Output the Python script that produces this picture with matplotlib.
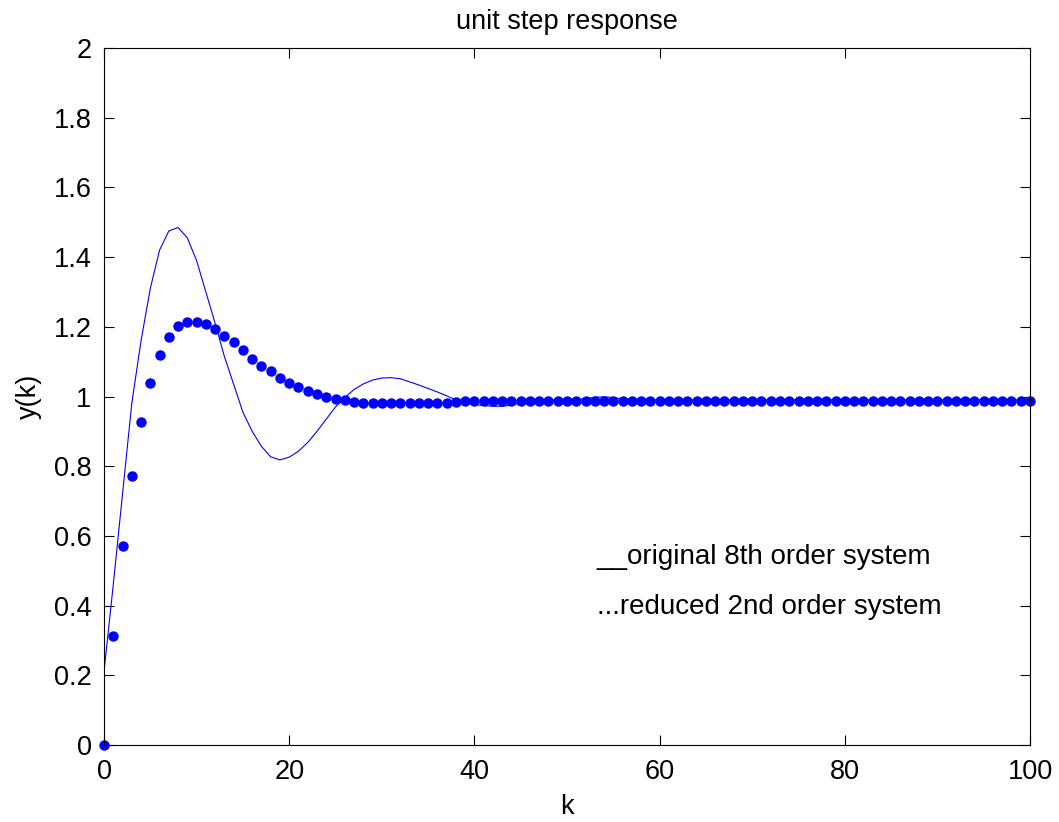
import numpy as np
import matplotlib
matplotlib.use('Agg')
import matplotlib.pyplot as plt

plt.rcParams['font.family'] = ['Liberation Sans', 'DejaVu Sans']

k = np.arange(0, 101)

# original 8th order system (solid line)
y_orig = [0.21, 0.46, 0.72, 0.98, 1.16, 1.31, 1.42, 1.475, 1.485, 1.455,
          1.39, 1.30, 1.21, 1.115, 1.035, 0.955, 0.90, 0.857, 0.827, 0.818,
          0.826, 0.843, 0.868, 0.90, 0.935, 0.97, 0.997, 1.02, 1.036, 1.047,
          1.053, 1.054, 1.051, 1.042, 1.033, 1.023, 1.013, 1.002, 0.99, 0.983,
          0.977, 0.974, 0.972, 0.972, 0.975, 0.981, 0.986, 0.988, 0.99, 0.99,
          0.99, 0.99, 0.994, 0.998, 0.999, 0.997, 0.993, 0.99, 0.99, 0.99,
          0.99, 0.99, 0.99, 0.99, 0.99, 0.99, 0.99, 0.99, 0.99, 0.99,
          0.99, 0.99, 0.99, 0.99, 0.99, 0.99, 0.99, 0.99, 0.99, 0.99,
          0.99, 0.99, 0.99, 0.99, 0.99, 0.99, 0.99, 0.99, 0.99, 0.99,
          0.99, 0.99, 0.99, 0.99, 0.99, 0.99, 0.99, 0.99, 0.99, 0.99,
          0.99]

# reduced 2nd order system (dots)
y_red = [0.0, 0.313, 0.570, 0.772, 0.928, 1.038, 1.118, 1.170, 1.202, 1.215,
         1.215, 1.209, 1.195, 1.175, 1.155, 1.133, 1.108, 1.087, 1.072, 1.052,
         1.038, 1.026, 1.016, 1.006, 0.999, 0.993, 0.990, 0.985, 0.982, 0.982,
         0.982, 0.982, 0.982, 0.982, 0.982, 0.982, 0.982, 0.982, 0.985, 0.986,
         0.987, 0.988, 0.988, 0.988, 0.988, 0.988, 0.988, 0.988, 0.988, 0.988,
         0.988, 0.988, 0.988, 0.988, 0.988, 0.988, 0.988, 0.988, 0.988, 0.988,
         0.988, 0.988, 0.988, 0.988, 0.988, 0.988, 0.988, 0.988, 0.988, 0.988,
         0.988, 0.988, 0.988, 0.988, 0.988, 0.988, 0.988, 0.988, 0.988, 0.988,
         0.988, 0.988, 0.988, 0.988, 0.988, 0.988, 0.988, 0.988, 0.988, 0.988,
         0.988, 0.988, 0.988, 0.988, 0.988, 0.988, 0.988, 0.988, 0.988, 0.988,
         0.988]

fs = 19.5

fig = plt.figure(figsize=(10.59, 8.22), dpi=100)
ax = fig.add_axes([104 / 1059, 1 - 745 / 822, (1030 - 104) / 1059, (745 - 48) / 822])

ax.plot(k, y_orig, '-', color='#0000ff', lw=0.8)
ax.plot(k, y_red, 'o', color='#0000ff', ms=6.5, mec='#0000ff', clip_on=False)

ax.set_xlim(0, 100)
ax.set_ylim(0, 2)
ax.set_xticks(np.arange(0, 101, 20))
ax.set_yticks(np.arange(0, 2.01, 0.2))
ax.set_yticklabels(['0', '0.2', '0.4', '0.6', '0.8', '1', '1.2', '1.4', '1.6', '1.8', '2'])
ax.tick_params(direction='in', top=True, right=True, labelsize=fs, length=7, width=0.8)
ax.tick_params(axis='x', pad=10)
ax.tick_params(axis='y', pad=9)
for s in ax.spines.values():
    s.set_linewidth(0.8)

ax.set_title('unit step response', fontsize=fs, pad=14)
ax.set_xlabel('k', fontsize=fs)
ax.set_ylabel('y(k)', fontsize=fs)
ax.xaxis.set_label_coords(0.5, -0.07)
ax.yaxis.set_label_coords(-0.067, 0.5)

ax.text(53.2, 0.539, '__original 8th order system', fontsize=fs + 0.5, va='center')
ax.text(53.2, 0.396, '...reduced 2nd order system', fontsize=fs + 0.5, va='center')

fig.savefig('out.png', dpi=100)
